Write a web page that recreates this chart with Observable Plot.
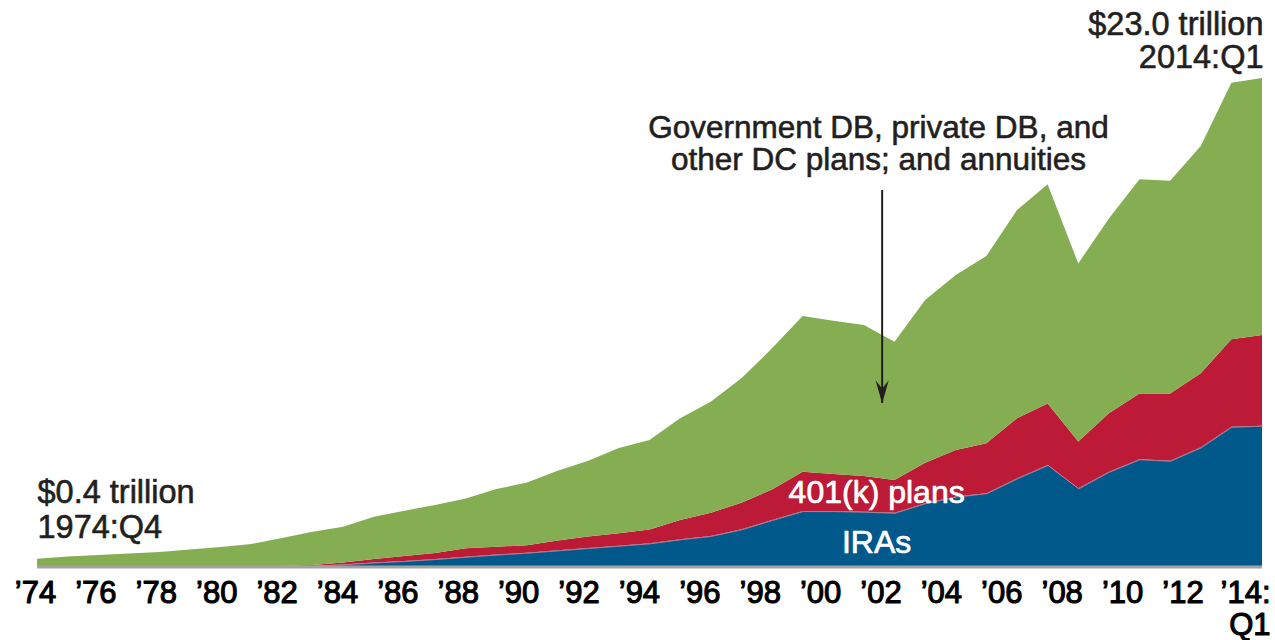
<!DOCTYPE html>
<html><head><meta charset="utf-8">
<script src="https://cdn.jsdelivr.net/npm/d3@7"></script>
<script src="https://cdn.jsdelivr.net/npm/@observablehq/plot@0.6"></script>
<style>
html,body{margin:0;padding:0;background:#fff;}
#chart svg{display:block}
</style></head><body><div id="chart"></div>
<script>
// Year-end values, trillions of dollars (last point = 2014:Q1)
const years = [1974,1975,1976,1977,1978,1979,1980,1981,1982,1983,1984,1985,1986,1987,1988,1989,1990,1991,1992,1993,1994,1995,1996,1997,1998,1999,2000,2001,2002,2003,2004,2005,2006,2007,2008,2009,2010,2011,2012,2013,2014];
const iras = [0,0,0,0,0,0,0,0,0.01,0.04,0.10,0.19,0.26,0.35,0.46,0.56,0.65,0.76,0.87,0.98,1.09,1.28,1.44,1.75,2.19,2.61,2.61,2.58,2.53,2.98,3.29,3.45,4.15,4.78,3.68,4.46,5.05,4.98,5.61,6.58,6.63];
const k401 = [0,0,0,0,0,0,0,0,0.01,0.03,0.09,0.16,0.23,0.29,0.40,0.37,0.35,0.46,0.54,0.58,0.65,0.91,1.09,1.25,1.44,1.85,1.74,1.68,1.54,1.91,2.19,2.35,2.83,2.90,2.20,2.75,3.10,3.17,3.49,4.12,4.27];
const otherPlans = [0.37,0.47,0.54,0.61,0.68,0.80,0.92,1.06,1.32,1.57,1.68,1.99,2.14,2.26,2.34,2.72,2.95,3.29,3.57,4.02,4.22,4.79,5.23,5.86,6.64,7.33,7.22,7.11,6.51,7.66,8.24,8.82,9.80,10.32,8.39,9.18,10.08,10.01,10.70,12.08,12.10];

const seriesNames = ["IRAs", "401(k) plans", "Government DB, private DB, and\nother DC plans; and annuities"];
const seriesColors = ["#01588a", "#bc1a36", "#85ad52"];

const tickYears = [1974,1976,1978,1980,1982,1984,1986,1988,1990,1992,1994,1996,1998,2000,2002,2004,2006,2008,2010,2012];
const tickLabels = ["’74","’76","’78","’80","’82","’84","’86","’88","’90","’92","’94","’96","’98","’00","’02","’04","’06","’08","’10","’12"];
const lastTickYear = [2014];
const lastTickLabel = ["’14:\nQ1"];

const startLabel = "$0.4 trillion\n1974:Q4";
const endLabel = "$23.0 trillion\n2014:Q1";

// annotation anchors (data coordinates)
const seriesLabelPos = [
  {name: "401(k) plans", year: 2001.4, value: 2.99},
  {name: "IRAs", year: 2001.4, value: 0.66}
];
const calloutPos = [{year: 2001.46, value: 18.67}];
const arrowPos = [{year: 2001.58, from: 17.73, to: 7.70}];

// the printed axis labels sit on a slightly tighter spacing than the data points
const labelSpacing = 0.986;
const labelShift = -0.065;

// build tidy table
const rows = [];
years.forEach((yr, i) => {
  rows.push({year: yr, series: seriesNames[0], value: iras[i]});
  rows.push({year: yr, series: seriesNames[1], value: k401[i]});
  rows.push({year: yr, series: seriesNames[2], value: otherPlans[i]});
});
const totals = years.map((yr, i) => ({year: yr, total: iras[i] + k401[i] + otherPlans[i]}));
const iraLine = years.map((yr, i) => ({year: yr, value: iras[i]})).filter(d => d.year >= 1982);
const ticks = tickYears.map((t, i) => ({year: t, label: tickLabels[i]}));
const lastTick = lastTickYear.map((t, i) => ({year: t, label: lastTickLabel[i]}));

const arrowHead = {
  draw(context) {
    context.moveTo(0, 0);
    context.lineTo(-6.5, -23);
    context.lineTo(0, -15);
    context.lineTo(6.5, -23);
    context.closePath();
  }
};

const font = "'Liberation Sans', Arial, sans-serif";
const ink = "#231f20";

const chart = Plot.plot({
  width: 1275,
  height: 640,
  marginLeft: 37,
  marginRight: 13,
  marginTop: 78,
  marginBottom: 73.5,
  style: {fontFamily: font, background: "#fff"},
  x: {domain: [1974, 2014], axis: null},
  y: {domain: [0, 23], axis: null},
  color: {domain: seriesNames, range: seriesColors},
  marks: [
    Plot.areaY(rows, {x: "year", y: "value", fill: "series", order: seriesNames}),
    Plot.lineY(iraLine, {x: "year", y: "value", stroke: "#d48a9a", strokeWidth: 0.8}),
    Plot.ruleY([0], {stroke: "#a2a2a2", strokeWidth: 3}),
    // x tick labels
    Plot.text(ticks, {x: d => 1974 + labelShift + (d.year - 1974) * labelSpacing, text: "label",
      frameAnchor: "bottom", lineAnchor: "top", dy: 13.5,
      fontSize: 31, fill: "#000", stroke: "#000", strokeWidth: 1.1}),
    Plot.text(lastTick, {x: "year", text: "label", frameAnchor: "bottom", lineAnchor: "top", dy: 13, dx: 8,
      textAnchor: "end", fontSize: 31, fill: "#000", stroke: "#000", strokeWidth: 1.1, lineHeight: 1.03}),
    // start / end value labels
    Plot.text(totals.slice(0, 1), {x: "year", y: "total", text: () => startLabel, textAnchor: "start",
      lineAnchor: "bottom", dy: -21.5, fontSize: 32.5, lineHeight: 1.08, fill: ink, stroke: ink, strokeWidth: 0.6}),
    Plot.text(totals.slice(-1), {x: "year", y: "total", text: () => endLabel, textAnchor: "end",
      lineAnchor: "bottom", dy: -11, dx: 1, fontSize: 32.5, lineHeight: 0.99, fill: ink, stroke: ink, strokeWidth: 0.6}),
    // series labels
    Plot.text(seriesLabelPos, {x: "year", y: "value", text: "name", fontSize: 32, fill: "#fff",
      stroke: "#fff", strokeWidth: 0.7, lineAnchor: "bottom"}),
    Plot.text(calloutPos, {x: "year", y: "value", text: () => seriesNames[2], fontSize: 31.5,
      lineAnchor: "bottom", lineHeight: 1.02, fill: ink, stroke: ink, strokeWidth: 0.6}),
    // arrow
    Plot.ruleX(arrowPos, {x: "year", y1: "from", y2: "to", stroke: ink, strokeWidth: 2}),
    Plot.dot(arrowPos, {x: "year", y: "to", symbol: arrowHead, fill: ink, stroke: "none"})
  ]
});
document.getElementById("chart").append(chart);
</script>
</body></html>
